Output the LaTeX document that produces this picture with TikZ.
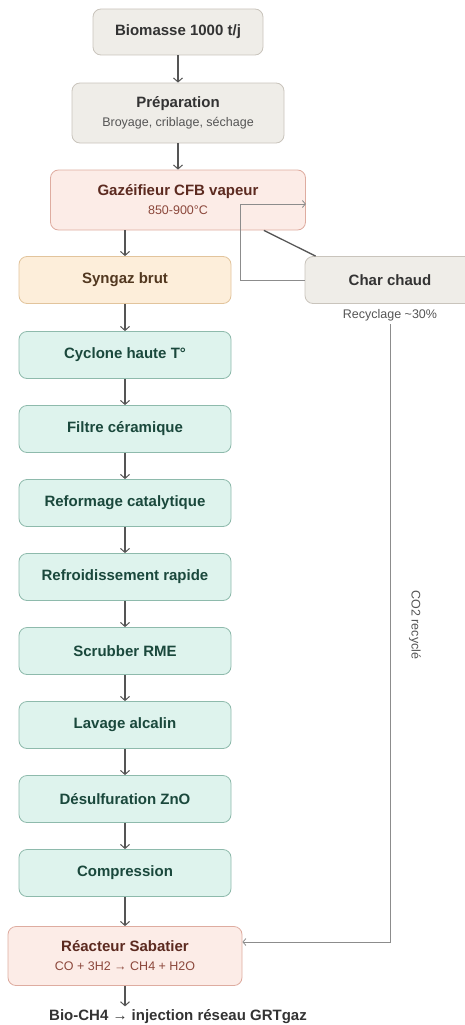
\documentclass[tikz,border=0pt]{standalone}
\usepackage{fontspec}
\setmainfont{Liberation Sans}
\usepackage{tikz}
\usetikzlibrary{shapes,arrows,arrows.meta,positioning,calc}
\definecolor{rawfill}{RGB}{239,237,232}
\definecolor{rawdraw}{RGB}{201,196,188}
\definecolor{rawtext}{RGB}{51,51,51}
\definecolor{hotfill}{RGB}{252,236,231}
\definecolor{hotdraw}{RGB}{222,172,160}
\definecolor{hottext}{RGB}{92,42,32}
\definecolor{hotsub}{RGB}{140,72,60}
\definecolor{gasfill}{RGB}{253,238,218}
\definecolor{gasdraw}{RGB}{226,196,156}
\definecolor{gastext}{RGB}{82,56,32}
\definecolor{cleanfill}{RGB}{222,243,237}
\definecolor{cleandraw}{RGB}{142,186,172}
\definecolor{cleantext}{RGB}{26,72,60}
\definecolor{linkgray}{RGB}{85,85,85}
\definecolor{loopgray}{RGB}{140,140,140}
\newcommand{\boxtitle}{\bfseries\fontsize{15}{20}\selectfont}
\newcommand{\boxsub}{\mdseries\fontsize{12.5}{15}\selectfont}

\begin{document}
\begin{tikzpicture}[
    x=1pt, y=-1pt,
    node distance=74pt,
    every node/.style={align=center},
    raw/.style={rectangle, rounded corners=8pt, minimum width=170pt, minimum height=46pt, text centered, draw=rawdraw, fill=rawfill, line width=0.8pt, text=rawtext, font=\boxtitle},
    hot/.style={rectangle, rounded corners=8pt, minimum width=255pt, minimum height=60pt, text centered, draw=hotdraw, fill=hotfill, line width=0.8pt, text=hottext, font=\boxtitle},
    gas/.style={rectangle, rounded corners=8pt, minimum width=212pt, minimum height=47pt, text centered, draw=gasdraw, fill=gasfill, line width=0.8pt, text=gastext, font=\boxtitle},
    clean/.style={rectangle, rounded corners=8pt, minimum width=212pt, minimum height=47pt, text centered, draw=cleandraw, fill=cleanfill, line width=0.8pt, text=cleantext, font=\boxtitle},
    note/.style={text=linkgray, font=\boxsub},
    arrow/.style={line width=1.3pt, draw=linkgray, -{Straight Barb[length=4pt,width=9pt,line width=1pt]}},
    loop/.style={line width=0.9pt, draw=loopgray, -{Straight Barb[length=3pt,width=7pt,line width=0.8pt]}}
]
\useasboundingbox (0,0) rectangle (464,1025);

% Feed and gasifier
\node[raw] (bio) at (178,32) {Biomasse 1000 t/j};
\node[raw, below of=bio, yshift=-7pt, minimum width=212pt, minimum height=60pt] (prep) {Préparation\\[-1pt]{\boxsub\color{linkgray}Broyage, criblage, séchage}};
\node[hot, below of=prep, yshift=-13pt] (gaz) {Gazéifieur CFB vapeur\\[-1pt]{\boxsub\color{hotsub}850-900°C}};

% Raw gas and char
\node[gas] (syn) at (125,280) {Syngaz brut};
\node[raw, minimum height=47pt] (char) at (390,280) {Char chaud};
\node[note] (recyc) at (390,315) {Recyclage \textasciitilde30\%};

% Gas cleaning
\node[clean, below of=syn, yshift=-1pt] (cyclone) {Cyclone haute T°};
\node[clean, below of=cyclone] (filtre) {Filtre céramique};
\node[clean, below of=filtre] (reform) {Reformage catalytique};
\node[clean, below of=reform] (quench) {Refroidissement rapide};
\node[clean, below of=quench] (scrub) {Scrubber RME};
\node[clean, below of=scrub] (lavage) {Lavage alcalin};
\node[clean, below of=lavage] (desulf) {Désulfuration ZnO};
\node[clean, below of=desulf] (compr) {Compression};

% Methanation
\node[hot, below of=compr, yshift=-9pt, minimum width=234pt, minimum height=59pt] (sab) {Réacteur Sabatier\\[-1pt]{\boxsub\color{hotsub}CO + 3H2 → CH4 + H2O}};
\node[text=rawtext, font=\boxtitle] (final) at (178,1017) {Bio-CH4 → injection réseau GRTgaz};
\node[note, rotate=-90] (co2) at (415,625) {CO2 recyclé};

% Connections
\draw[arrow] (bio) -- (prep);
\draw[arrow] (prep) -- (gaz);
\draw[arrow] (syn.north |- gaz.south) -- (syn);
\draw[line width=1.3pt, draw=linkgray] ([xshift=-42pt]gaz.south east) -- ([xshift=11pt]char.north west);
\draw[loop] (char.west) -- ++(-64,0) |- ([yshift=-4pt]gaz.east);
\draw[arrow] (syn) -- (cyclone);
\draw[arrow] (cyclone) -- (filtre);
\draw[arrow] (filtre) -- (reform);
\draw[arrow] (reform) -- (quench);
\draw[arrow] (quench) -- (scrub);
\draw[arrow] (scrub) -- (lavage);
\draw[arrow] (lavage) -- (desulf);
\draw[arrow] (desulf) -- (compr);
\draw[arrow] (compr) -- (sab);
\draw[loop] (recyc.south) |- ([yshift=14pt]sab.east);
\draw[arrow] (sab) -- (sab.south |- final.north);

\end{tikzpicture}
\end{document}
